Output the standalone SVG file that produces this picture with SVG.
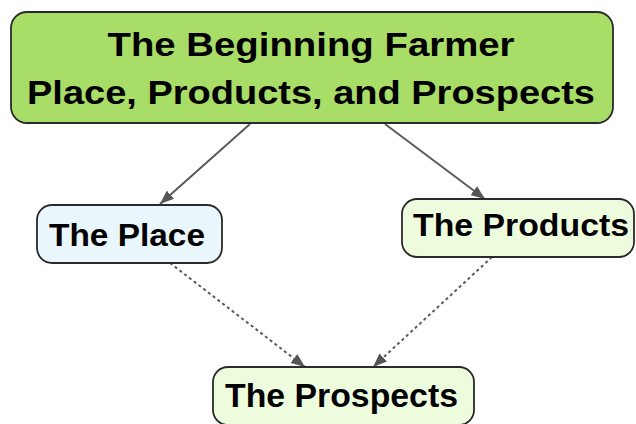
<svg xmlns="http://www.w3.org/2000/svg" width="636" height="424" viewBox="0 0 636 424">
<style>
.box{stroke:#2a2a2a;stroke-width:1.8}
.t{font-family:"Liberation Sans",Arial,sans-serif;font-weight:bold;fill:#000;text-anchor:middle}
.c{fill:none;stroke:#5a5a5a;stroke-width:2}
.d{stroke-dasharray:3,3}
</style>
<defs>
<marker id="ah" viewBox="0 0 14 11" refX="14" refY="5.5" markerWidth="14" markerHeight="11" markerUnits="userSpaceOnUse" orient="auto">
<path d="M0,0 L14,5.5 L0,11 z" fill="#555"/>
</marker>
</defs>
<rect width="636" height="424" fill="#fff"/>
<g id="connectors">
<line class="c" x1="250" y1="124" x2="160" y2="204" marker-end="url(#ah)"/>
<line class="c" x1="385" y1="124" x2="485" y2="199" marker-end="url(#ah)"/>
<line class="c d" x1="170" y1="263" x2="305" y2="367" marker-end="url(#ah)"/>
<line class="c d" x1="492" y1="257" x2="373" y2="367" marker-end="url(#ah)"/>
</g>
<g id="root">
<rect class="box" x="11" y="12" width="602" height="111" rx="16" fill="#a8dd68"/>
<text class="t" x="311" y="56" font-size="33" textLength="407" lengthAdjust="spacingAndGlyphs">The Beginning Farmer</text>
<text class="t" x="311" y="104" font-size="33" textLength="568" lengthAdjust="spacingAndGlyphs">Place, Products, and Prospects</text>
</g>
<g id="place">
<rect class="box" x="37" y="205" width="185" height="58" rx="15" fill="#e9f6fc"/>
<text class="t" x="127" y="246" font-size="32" textLength="156" lengthAdjust="spacingAndGlyphs">The Place</text>
</g>
<g id="products">
<rect class="box" x="402" y="199" width="232" height="58" rx="15" fill="#eefcde"/>
<text class="t" x="521" y="236" font-size="32" textLength="216" lengthAdjust="spacingAndGlyphs">The Products</text>
</g>
<g id="prospects">
<rect class="box" x="213" y="367" width="261" height="58" rx="15" fill="#eefcde"/>
<text class="t" x="341.5" y="407" font-size="33" textLength="233" lengthAdjust="spacingAndGlyphs">The Prospects</text>
</g>
</svg>
